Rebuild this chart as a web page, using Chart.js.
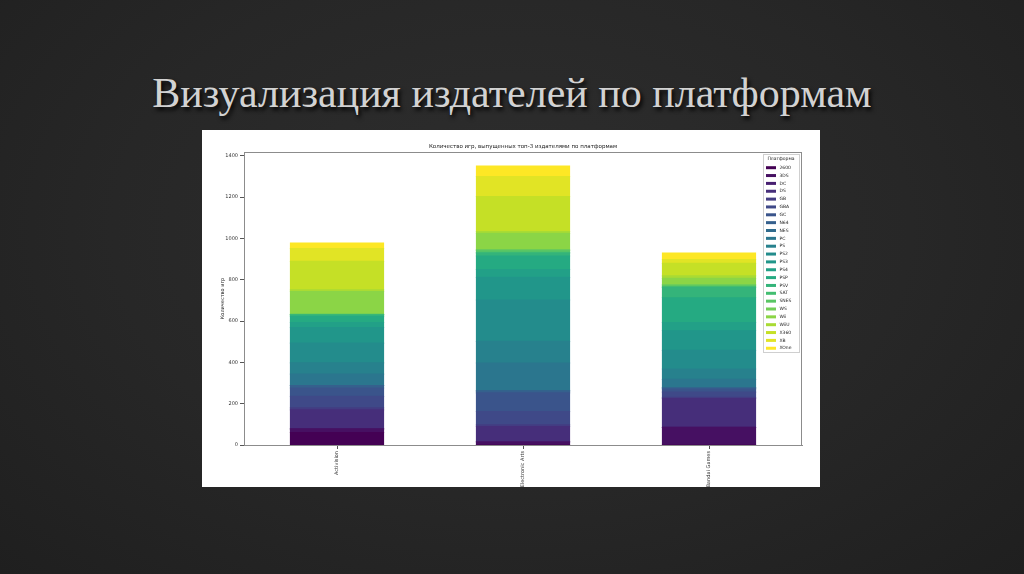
<!DOCTYPE html>
<html><head><meta charset="utf-8">
<script src="https://cdn.jsdelivr.net/npm/chart.js@4"></script>
<style>
html,body{margin:0;padding:0;width:1024px;height:574px;overflow:hidden;}
body{background:radial-gradient(ellipse at 50% 40%, #2e2e2e 0%, #272727 55%, #1f1f1f 100%);position:relative;}
#title{position:absolute;left:0;top:68px;width:1024px;text-align:center;font-family:"Liberation Serif","Times New Roman",serif;font-size:42px;line-height:50px;color:#d2d2d2;text-shadow:2px 3px 4px #000;}
#box{position:absolute;left:202px;top:130px;width:618px;height:357px;background:#fff;overflow:hidden;}
#c{position:absolute;left:0;top:0;}
</style></head>
<body>
<div id="title">Визуализация издателей по платформам</div>
<div id="box"><canvas id="c" width="618" height="400"></canvas></div>
<script>
const publishers = ['Activision', 'Electronic Arts', 'Namco Bandai Games'];
const platforms = ['2600','3DS','DC','DS','GB','GBA','GC','N64','NES','PC','PS','PS2','PS3','PS4','PSP','PSV','SAT','SNES','WS','Wii','WiiU','X360','XB','XOne'];
const activision     = [60,18,0,92,10,55,41,12,0,55,55,95,75,25,30,7,0,3,0,110,8,138,62,27];
const electronicArts = [0,14,3,72,8,65,90,10,0,135,105,200,110,37,66,14,4,10,0,82,8,170,97,50];
const namcoBandai    = [0,85,0,140,6,25,15,4,3,40,50,90,95,40,120,50,3,5,6,30,12,60,18,32];
const yTicks = [0,200,400,600,800,1000,1200,1400];
const chartTitle = 'Количество игр, выпущенных топ-3 издателями по платформам';
const yTitle = 'Количество игр';
const legendTitle = 'Платформа';

const byPublisher = [activision, electronicArts, namcoBandai];

// viridis colour map anchors
const vAnch = ['#440154','#482475','#414487','#355f8d','#2a788e','#21918c','#22a884','#44bf70','#7ad151','#bddf26','#fde725'];
function hex2rgb(h){return [parseInt(h.substr(1,2),16),parseInt(h.substr(3,2),16),parseInt(h.substr(5,2),16)];}
function viridis(t){
  const p=t*10, i=Math.min(9,Math.floor(p)), f=p-i;
  const a=hex2rgb(vAnch[i]), b=hex2rgb(vAnch[i+1]);
  const c=a.map((v,k)=>Math.round(v+(b[k]-v)*f));
  return 'rgb('+c.join(',')+')';
}
const colors = platforms.map((p,i)=>viridis(i/(platforms.length-1)));

const frame = {
  id:'frame',
  afterDraw(chart){
    const c=chart.ctx, a=chart.chartArea;
    c.save();
    c.strokeStyle='#8c8c8c'; c.lineWidth=1;
    c.strokeRect(Math.round(a.left)+0.5, Math.round(a.top)+0.5, Math.round(a.right-a.left)-1, Math.round(a.bottom-a.top));
    // legend
    const x0=a.right-39, y0=a.top+2, w=36, h=198;
    c.fillStyle='rgba(255,255,255,0.85)';
    c.fillRect(x0,y0,w,h);
    c.strokeStyle='#cfcfcf';
    c.strokeRect(x0+0.5,y0+0.5,w,h);
    c.fillStyle='#222';
    c.font='4.5px "DejaVu Sans"';
    c.textBaseline='middle';
    c.textAlign='center';
    c.fillText(legendTitle, x0+w/2, y0+5);
    c.textAlign='left';
    chart.data.datasets.forEach((ds,i)=>{
      const yy=y0+13.7+i*7.85;
      c.fillStyle=ds.backgroundColor;
      c.fillRect(x0+3, yy-1.5, 10, 3);
      c.fillStyle='#222';
      c.fillText(ds.label, x0+16.5, yy);
    });
    c.restore();
  }
};

new Chart(document.getElementById('c'), {
  type:'bar',
  data:{
    labels: publishers,
    datasets: platforms.map((p,i)=>({
      label:p,
      data: byPublisher.map(arr=>arr[i]),
      backgroundColor: colors[i],
      borderWidth:0,
      inflateAmount:0.6,
      barPercentage:0.5,
      categoryPercentage:1.0
    }))
  },
  options:{
    responsive:false, animation:false, devicePixelRatio:1,
    layout:{padding:{left:0,right:18,top:0,bottom:0}},
    plugins:{
      legend:{display:false},
      tooltip:{enabled:false},
      title:{display:true, text:chartTitle, fullSize:false, color:'#222',
        font:{family:'DejaVu Sans', size:5.5, weight:'normal'}, padding:{top:13.7,bottom:1.7}}
    },
    scales:{
      x:{
        stacked:true,
        grid:{display:true, offset:false, drawOnChartArea:false, tickLength:4, color:'#555'},
        border:{color:'#8c8c8c'},
        ticks:{maxRotation:90, minRotation:90, autoSkip:false, padding:2, color:'#333', font:{family:'DejaVu Sans', size:5}},
        afterFit(s){ s.height=85; }
      },
      y:{
        stacked:true, min:0, max:1418.5,
        afterBuildTicks(s){ s.ticks = yTicks.map(v=>({value:v})); },
        grid:{display:true, drawOnChartArea:false, tickLength:4, color:'#555'},
        border:{color:'#8c8c8c'},
        ticks:{padding:2, color:'#333', font:{family:'DejaVu Sans', size:5}, callback:v=>String(v)},
        title:{display:true, text:yTitle, color:'#222', font:{family:'DejaVu Sans', size:5}, padding:{top:17.3,bottom:0}},
        afterFit(s){ s.width=42; }
      }
    }
  },
  plugins:[frame]
});
</script>
</body></html>
